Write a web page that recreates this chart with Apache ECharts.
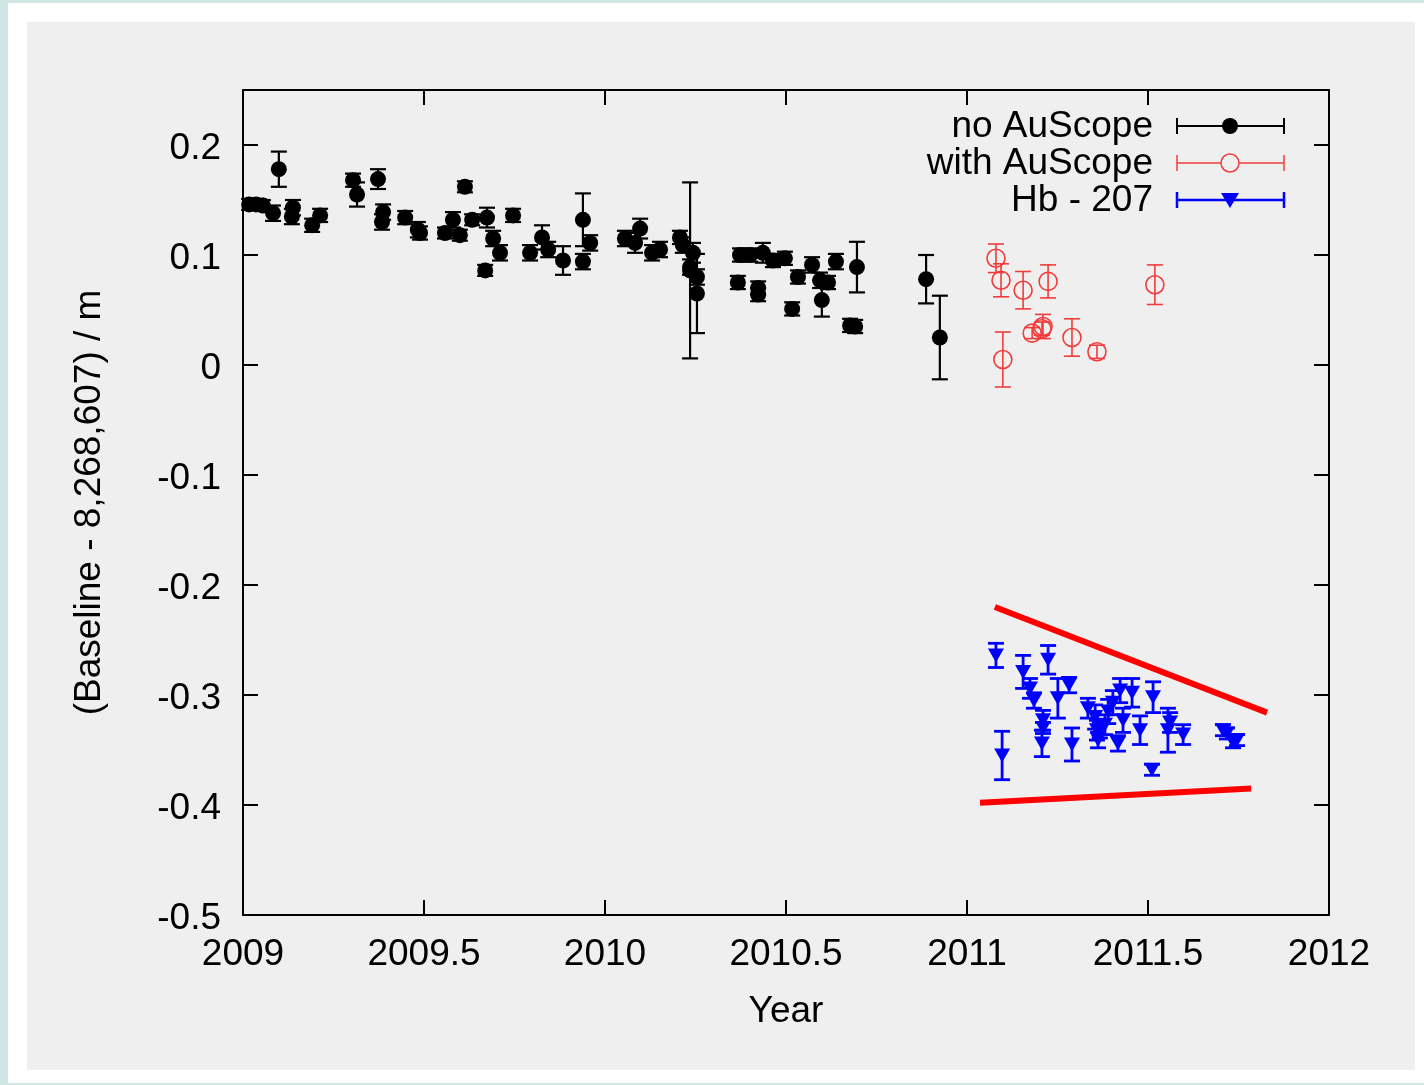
<!DOCTYPE html>
<html>
<head>
<meta charset="utf-8">
<script src="https://cdn.jsdelivr.net/npm/echarts@6/dist/echarts.min.js"></script>
<style>
  html, body { margin: 0; padding: 0; width: 1424px; height: 1085px; overflow: hidden; background: #cfe6e2; }
  #frame { position: absolute; left: 8px; top: 3px; width: 1416px; height: 1080px; background: #ffffff; }
  #panel { position: absolute; left: 27px; top: 22px; width: 1388px; height: 1048px; background: #efefef; }
  #chart { position: absolute; left: 0; top: 0; width: 1424px; height: 1085px; }
</style>
</head>
<body>
<div id="frame"></div>
<div id="panel"></div>
<div id="chart"></div>
<script>
// ---- data ----
const xTickLabels = ['2009', '2009.5', '2010', '2010.5', '2011', '2011.5', '2012'];
const yTickLabels = ['-0.5', '-0.4', '-0.3', '-0.2', '-0.1', '0', '0.1', '0.2'];

const noAuScopeYear = [2009.017, 2009.036, 2009.055, 2009.099, 2009.083, 2009.138, 2009.135, 2009.191, 2009.213, 2009.304, 2009.315, 2009.373, 2009.387, 2009.384, 2009.448, 2009.483, 2009.489, 2009.613, 2009.558, 2009.580, 2009.599, 2009.633, 2009.674, 2009.691, 2009.710, 2009.669, 2009.746, 2009.793, 2009.826, 2009.843, 2009.884, 2009.939, 2009.939, 2009.959, 2010.055, 2010.083, 2010.097, 2010.130, 2010.152, 2010.207, 2010.215, 2010.235, 2010.243, 2010.235, 2010.254, 2010.254, 2010.367, 2010.373, 2010.401, 2010.436, 2010.464, 2010.497, 2010.423, 2010.423, 2010.533, 2010.517, 2010.572, 2010.594, 2010.616, 2010.599, 2010.638, 2010.696, 2010.677, 2010.691, 2010.887, 2010.925];
const noAuScopeValue = [0.146, 0.146, 0.145, 0.178, 0.138, 0.143, 0.135, 0.127, 0.136, 0.168, 0.155, 0.169, 0.139, 0.130, 0.134, 0.123, 0.120, 0.162, 0.120, 0.132, 0.118, 0.132, 0.134, 0.115, 0.102, 0.086, 0.136, 0.102, 0.116, 0.105, 0.095, 0.132, 0.094, 0.111, 0.115, 0.111, 0.124, 0.102, 0.105, 0.116, 0.109, 0.086, 0.102, 0.089, 0.080, 0.065, 0.075, 0.100, 0.100, 0.102, 0.095, 0.097, 0.070, 0.064, 0.080, 0.051, 0.091, 0.077, 0.075, 0.059, 0.094, 0.089, 0.036, 0.035, 0.078, 0.025];
const noAuScopeError = [0.005, 0.005, 0.005, 0.016, 0.007, 0.007, 0.007, 0.006, 0.006, 0.006, 0.011, 0.009, 0.007, 0.007, 0.006, 0.007, 0.006, 0.005, 0.005, 0.007, 0.005, 0.005, 0.009, 0.007, 0.007, 0.005, 0.006, 0.007, 0.011, 0.007, 0.013, 0.024, 0.007, 0.007, 0.007, 0.009, 0.009, 0.007, 0.007, 0.006, 0.007, 0.080, 0.009, 0.007, 0.007, 0.036, 0.006, 0.006, 0.006, 0.009, 0.006, 0.006, 0.006, 0.006, 0.006, 0.006, 0.007, 0.007, 0.006, 0.015, 0.007, 0.023, 0.006, 0.006, 0.022, 0.038];

const withAuScopeYear = [2011.080, 2011.094, 2011.099, 2011.155, 2011.224, 2011.180, 2011.210, 2011.207, 2011.290, 2011.359, 2011.519];
const withAuScopeValue = [0.097, 0.077, 0.005, 0.068, 0.076, 0.029, 0.035, 0.033, 0.025, 0.012, 0.073];
const withAuScopeError = [0.013, 0.015, 0.025, 0.017, 0.015, 0.005, 0.011, 0.006, 0.017, 0.006, 0.018];

const hb207Year = [2011.080, 2011.097, 2011.155, 2011.174, 2011.185, 2011.224, 2011.210, 2011.210, 2011.207, 2011.251, 2011.282, 2011.290, 2011.334, 2011.354, 2011.359, 2011.362, 2011.367, 2011.390, 2011.423, 2011.456, 2011.431, 2011.417, 2011.478, 2011.514, 2011.511, 2011.555, 2011.561, 2011.597, 2011.707, 2011.718, 2011.735, 2011.746, 2011.403, 2011.381];
const hb207Value = [-0.264, -0.355, -0.279, -0.294, -0.305, -0.268, -0.323, -0.330, -0.344, -0.303, -0.291, -0.345, -0.312, -0.320, -0.332, -0.341, -0.332, -0.315, -0.296, -0.298, -0.323, -0.344, -0.332, -0.302, -0.368, -0.332, -0.325, -0.336, -0.332, -0.335, -0.343, -0.341, -0.307, -0.327];
const hb207Error = [0.011, 0.022, 0.015, 0.009, 0.007, 0.013, 0.009, 0.005, 0.012, 0.018, 0.007, 0.015, 0.009, 0.011, 0.009, 0.007, 0.007, 0.011, 0.011, 0.013, 0.011, 0.007, 0.013, 0.014, 0.005, 0.020, 0.009, 0.009, 0.005, 0.005, 0.005, 0.005, 0.011, 0.009];

// hand-drawn red annotation lines (data coordinates)
const upperLineYear = [2011.077, 2011.829];
const upperLineValue = [-0.220, -0.316];
const lowerLineYear = [2011.036, 2011.785];
const lowerLineValue = [-0.398, -0.385];

// ---- build ----
function pts(xs, ys) { return xs.map((x, i) => [x, ys[i]]); }
function errData(xs, ys, es) { return xs.map((x, i) => [x, ys[i], es[i]]); }

function errorBarSeries(name, xs, ys, es, color, width) {
  return {
    type: 'custom',
    name: name,
    data: errData(xs, ys, es),
    encode: { x: 0, y: 1 },
    z: 3,
    renderItem: function (params, api) {
      const x = api.value(0), y = api.value(1), e = api.value(2);
      const lo = api.coord([x, y - e]);
      const hi = api.coord([x, y + e]);
      const cw = 8;
      const st = { stroke: color, lineWidth: width };
      return {
        type: 'group',
        children: [
          { type: 'line', shape: { x1: lo[0], y1: lo[1], x2: hi[0], y2: hi[1] }, style: st },
          { type: 'line', shape: { x1: lo[0] - cw, y1: lo[1], x2: lo[0] + cw, y2: lo[1] }, style: st },
          { type: 'line', shape: { x1: hi[0] - cw, y1: hi[1], x2: hi[0] + cw, y2: hi[1] }, style: st }
        ]
      };
    }
  };
}

const FONT = '"Liberation Sans", Arial, Helvetica, sans-serif';
const FS = 37;
const BLACK = '#000000', RED = '#f23c3c', BLUE = '#0000ff';

const axisCommon = {
  axisLine: { show: true, onZero: false, lineStyle: { color: '#000', width: 2 } },
  axisTick: { show: true, inside: true, length: 15, lineStyle: { color: '#000', width: 2 } },
  splitLine: { show: false }
};

const chart = echarts.init(document.getElementById('chart'), null, { renderer: 'canvas' });

// legend drawn with graphic elements
const legendRows = [
  { label: 'no AuScope', color: BLACK, y: 126, kind: 'filled', lw: 2 },
  { label: 'with AuScope', color: RED, y: 163, kind: 'open', lw: 1.5 },
  { label: 'Hb - 207', color: BLUE, y: 200, kind: 'tri', lw: 2.5 }
];
const legendGraphics = [];
legendRows.forEach(r => {
  legendGraphics.push({ type: 'text', x: 1153, y: r.y + 1, style: { text: r.label, font: FS + 'px ' + FONT, fill: '#000', align: 'right', verticalAlign: 'middle' } });
  legendGraphics.push({ type: 'line', shape: { x1: 1177, y1: r.y, x2: 1284, y2: r.y }, style: { stroke: r.color, lineWidth: r.lw } });
  legendGraphics.push({ type: 'line', shape: { x1: 1177, y1: r.y - 8, x2: 1177, y2: r.y + 8 }, style: { stroke: r.color, lineWidth: r.lw } });
  legendGraphics.push({ type: 'line', shape: { x1: 1284, y1: r.y - 8, x2: 1284, y2: r.y + 8 }, style: { stroke: r.color, lineWidth: r.lw } });
  if (r.kind === 'filled') {
    legendGraphics.push({ type: 'circle', shape: { cx: 1230, cy: r.y, r: 8 }, style: { fill: r.color } });
  } else if (r.kind === 'open') {
    legendGraphics.push({ type: 'circle', shape: { cx: 1230, cy: r.y, r: 9 }, style: { fill: '#efefef', stroke: r.color, lineWidth: 1.5 } });
  } else {
    legendGraphics.push({ type: 'polygon', shape: { points: [[1221, r.y - 7], [1239, r.y - 7], [1230, r.y + 8]] }, style: { fill: r.color } });
  }
});

const option = {
  backgroundColor: 'transparent',
  animation: false,
  textStyle: { fontFamily: FONT },
  grid: { left: 243, right: 95, top: 90, bottom: 170, containLabel: false },
  xAxis: [
    Object.assign({}, axisCommon, {
      type: 'value', position: 'bottom', min: 2009, max: 2012, interval: 0.5,
      axisLabel: { show: true, fontSize: FS, color: '#000', fontFamily: FONT, margin: 21,
        formatter: v => { const s = String(Math.round(v * 10) / 10); return xTickLabels.indexOf(s) >= 0 ? s : ''; } },
      name: 'Year', nameLocation: 'middle', nameGap: 78,
      nameTextStyle: { fontSize: FS, color: '#000', fontFamily: FONT }
    }),
    Object.assign({}, axisCommon, {
      type: 'value', position: 'top', min: 2009, max: 2012, interval: 0.5,
      axisLabel: { show: false }
    })
  ],
  yAxis: [
    Object.assign({}, axisCommon, {
      type: 'value', position: 'left', min: -0.5, max: 0.25, interval: 0.1,
      axisLabel: { show: true, fontSize: FS, color: '#000', fontFamily: FONT, margin: 22,
        formatter: v => { const s = String(Math.round(v * 10) / 10); return (Math.abs(v * 10 - Math.round(v * 10)) < 1e-6 && yTickLabels.indexOf(s) >= 0) ? '{t|' + s + '}' : ''; },
        rich: { t: { fontSize: FS, color: '#000', fontFamily: FONT, padding: [8, 0, 0, 0] } } },
      name: '(Baseline - 8,268,607) / m', nameLocation: 'middle', nameRotate: 90, nameGap: 135,
      nameTextStyle: { fontSize: FS, color: '#000', fontFamily: FONT }
    }),
    Object.assign({}, axisCommon, {
      type: 'value', position: 'right', min: -0.5, max: 0.25, interval: 0.1,
      axisLabel: { show: false }
    })
  ],
  series: [
    errorBarSeries('no AuScope bars', noAuScopeYear, noAuScopeValue, noAuScopeError, BLACK, 2.2),
    { type: 'scatter', name: 'no AuScope', data: pts(noAuScopeYear, noAuScopeValue), symbol: 'circle', symbolSize: 16,
      itemStyle: { color: BLACK, opacity: 1 }, z: 4 },
    errorBarSeries('with AuScope bars', withAuScopeYear, withAuScopeValue, withAuScopeError, RED, 1.6),
    { type: 'scatter', name: 'with AuScope', data: pts(withAuScopeYear, withAuScopeValue), symbol: 'circle', symbolSize: 18,
      itemStyle: { color: 'rgba(0,0,0,0)', borderColor: RED, borderWidth: 1.6, opacity: 1 }, z: 4 },
    errorBarSeries('Hb - 207 bars', hb207Year, hb207Value, hb207Error, BLUE, 2.8),
    { type: 'scatter', name: 'Hb - 207', data: pts(hb207Year, hb207Value), symbol: 'triangle', symbolRotate: 180, symbolSize: [16, 14],
      itemStyle: { color: BLUE, opacity: 1 }, z: 4 },
    { type: 'line', name: 'upper', data: pts(upperLineYear, upperLineValue), symbol: 'none', silent: true,
      lineStyle: { color: '#ff0000', width: 6 }, z: 5 },
    { type: 'line', name: 'lower', data: pts(lowerLineYear, lowerLineValue), symbol: 'none', silent: true,
      lineStyle: { color: '#ff0000', width: 6 }, z: 5 }
  ],
  graphic: legendGraphics
};
chart.setOption(option);
</script>
</body>
</html>
